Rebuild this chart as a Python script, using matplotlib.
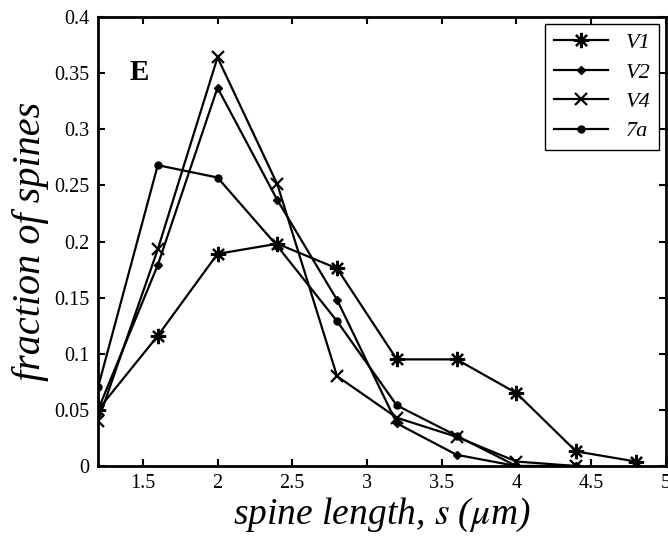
import matplotlib
matplotlib.use("Agg")
import matplotlib.pyplot as plt

x_len = [1.2, 1.6, 2.0, 2.4, 2.8, 3.2, 3.6, 4.0, 4.4, 4.8]
v1 = [0.050, 0.116, 0.189, 0.198, 0.176, 0.095, 0.095, 0.065, 0.013, 0.004]
v2 = [0.050, 0.179, 0.337, 0.237, 0.148, 0.038, 0.010, 0.000, 0.000]
v4 = [0.040, 0.193, 0.364, 0.251, 0.080, 0.043, 0.026, 0.004, 0.000]
a7 = [0.070, 0.268, 0.257, 0.196, 0.129, 0.054, 0.027, 0.000, 0.000]
labels = ["V1", "V2", "V4", "7a"]

xticks = [1.5, 2, 2.5, 3, 3.5, 4, 4.5, 5]
xticklabels = ["1.5", "2", "2.5", "3", "3.5", "4", "4.5", "5"]
yticks = [0, 0.05, 0.1, 0.15, 0.2, 0.25, 0.3, 0.35, 0.4]
yticklabels = ["0", "0.05", "0.1", "0.15", "0.2", "0.25", "0.3", "0.35", "0.4"]

plt.rcParams['font.family'] = ['Liberation Serif', 'DejaVu Serif']
plt.rcParams['mathtext.fontset'] = 'stix'

fig = plt.figure(figsize=(6.68, 5.4), dpi=100)
ax = fig.add_axes([0.1467, 0.137, 0.850, 0.8315])

lw = 1.6
ax.plot(x_len, v1, color='black', lw=lw, marker=(8, 2, 0), ms=11, mew=1.6, label=labels[0])
ax.plot(x_len[:len(v2)], v2, color='black', lw=lw, marker='D', ms=4, label=labels[1])
ax.plot(x_len[:len(v4)], v4, color='black', lw=lw, marker='x', ms=8, mew=1.6, label=labels[2])
ax.plot(x_len[:len(a7)], a7, color='black', lw=lw, marker='o', ms=5, label=labels[3])

ax.set_xlim(1.2, 5)
ax.set_ylim(0, 0.4)
ax.set_xticks(xticks)
ax.set_xticklabels(xticklabels)
ax.set_yticks(yticks)
ax.set_yticklabels(yticklabels)
ax.tick_params(direction='in', top=True, right=True, length=5, width=1.5,
               labelsize=14.5, pad=6)
for s in ax.spines.values():
    s.set_linewidth(2)

ax.set_xlabel("spine length, $s$ ($\\mu$m)", fontsize=27, style='italic', labelpad=2)
ax.set_ylabel("fraction of spines", fontsize=29, style='italic', labelpad=4)

ax.text(0.056, 0.86, "E", transform=ax.transAxes, fontsize=21, fontweight='bold')

leg = ax.legend(loc='upper right', prop={'style': 'italic', 'size': 16},
                fancybox=False, edgecolor='black', framealpha=1,
                handlelength=2.4, borderaxespad=0.3, labelspacing=0.4)
leg.get_frame().set_linewidth(1.0)

fig.savefig("out.png", dpi=100)
